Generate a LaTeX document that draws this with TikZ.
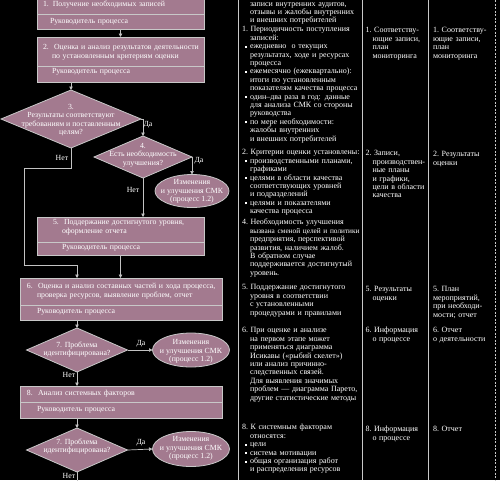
\documentclass[tikz,border=0pt]{standalone}
\usepackage{fontspec}
\setmainfont{Liberation Serif}
\usetikzlibrary{shapes.geometric,arrows.meta,calc}
\definecolor{mauve}{RGB}{163,122,143}
\definecolor{edgegray}{RGB}{200,200,200}
\definecolor{conngray}{RGB}{195,195,195}
\newcommand\ii{\hspace*{8pt}}
\newcommand\iii{\hspace*{7pt}}
\newcommand\bb{\hspace*{3pt}\makebox[5pt][l]{\rule[1pt]{2pt}{2pt}}}
\begin{document}
\begin{tikzpicture}[x=1pt,y=-1pt,
  every node/.style={font=\fontsize{7.8}{8.4}\selectfont, text=white, inner sep=0pt, outer sep=0pt},
  procbox/.style={draw=edgegray, line width=0.8pt, fill=mauve, rectangle, anchor=north west},
  dia/.style={draw=edgegray, line width=0.8pt, fill=mauve, diamond},
  ell/.style={draw=edgegray, line width=0.8pt, fill=mauve, ellipse},
  divline/.style={draw=edgegray, line width=0.8pt},
  arr/.style={draw=conngray, line width=0.7pt, -{Triangle[width=3.5pt,length=3.5pt]}},
  plainline/.style={draw=conngray, line width=0.7pt},
  btxt/.style={anchor=north west, align=left, text width=200pt},
  ctxt/.style={anchor=north, align=center, font=\fontsize{7.8}{8.5}\selectfont},
  etxt/.style={anchor=north, align=center, font=\fontsize{7.8}{8.4}\selectfont},
  coltxt/.style={anchor=north west, align=left, text width=140pt, font=\fontsize{8}{8.4}\selectfont},
  lab/.style={anchor=center},
  colline/.style={draw=edgegray, line width=1pt},
]
\useasboundingbox (0,0) rectangle (500,480);
\fill[black] (0,0) rectangle (500,480);

% column lines
\draw[colline] (238,0) -- (238,480);
\draw[colline] (362,0) -- (362,480);
\draw[colline] (428,0) -- (428,480);
\draw[colline, dashed, dash pattern=on 2pt off 1.5pt] (495,0) -- (495,480);

% process boxes
\node[procbox, minimum width=167pt, minimum height=33pt] (b1) at (37,-4) {};
\draw[divline] (b1.west |- 0,14) -- (b1.east |- 0,14);
\node[procbox, minimum width=167pt, minimum height=45pt] (b2) at (37,37) {};
\draw[divline] (b2.west |- 0,66) -- (b2.east |- 0,66);
\node[procbox, minimum width=167pt, minimum height=38pt] (b5) at (37,217) {};
\draw[divline] (b5.west |- 0,242) -- (b5.east |- 0,242);
\node[procbox, minimum width=202pt, minimum height=42pt] (b6) at (20,278) {};
\draw[divline] (b6.west |- 0,305) -- (b6.east |- 0,305);
\node[procbox, minimum width=202pt, minimum height=32pt] (b8) at (20,386) {};
\draw[divline] (b8.west |- 0,402) -- (b8.east |- 0,402);

% decisions and ellipses
\node[dia, minimum width=140pt, minimum height=58pt] (d3) at (71,119) {};
\node[dia, minimum width=98pt, minimum height=42pt] (d4) at (143,157) {};
\node[dia, minimum width=101pt, minimum height=44pt] (d7) at (77,350) {};
\node[dia, minimum width=101pt, minimum height=44pt] (d9) at (77,450) {};
\node[ell, minimum width=74pt, minimum height=33pt] (e1) at (192,191) {};
\node[ell, minimum width=77pt, minimum height=34pt] (e2) at (191,350) {};
\node[ell, minimum width=77pt, minimum height=35pt] (e3) at (191,449) {};

% box texts
\node[btxt] (t1a) at (43,1.1) {\strut 1. Получение необходимых записей};
\node[btxt] (t1b) at (50,18.1) {\strut Руководитель процесса};
\node[btxt] (t2a) at (43,44.1) {\strut 2.\ \ Оценка и анализ результатов деятельности\\\hspace*{9pt}по установленным критериям оценки};
\node[btxt] (t2b) at (52,68.1) {\strut Руководитель процесса};
\node[btxt] (t5a) at (53,219.1) {\strut 5.\ \ Поддержание достигнутого уровня,\\\hspace*{9pt}оформление отчета};
\node[btxt] (t5b) at (62,244.1) {\strut Руководитель процесса};
\node[btxt] (t6a) at (27,283.1) {\strut 6.\ \ Оценка и анализ составных частей и хода процесса,\\\hspace*{10pt}проверка ресурсов, выявление проблем, отчет};
\node[btxt] (t6b) at (37,308.1) {\strut Руководитель процесса};
\node[btxt] (t8a) at (27,390.1) {\strut 8.\ \ Анализ системных факторов};
\node[btxt] (t8b) at (37,406.1) {\strut Руководитель процесса};

% shape texts
\node[ctxt] (td3) at (71,103.1) {\strut 3.\\Результаты соответствуют\\требованиям и поставленным\\целям?};
\node[ctxt] (td4) at (143,142.1) {\strut 4.\\Есть необходимость\\улучшения?};
\node[etxt] (te1) at (192,179.1) {\strut Изменения\\и улучшения СМК\\(процесс 1.2)};
\node[ctxt] (td7) at (77,341.1) {\strut 7. Проблема\\идентифицирована?};
\node[etxt] (te2) at (191,339.1) {\strut Изменения\\и улучшения СМК\\(процесс 1.2)};
\node[ctxt] (td9) at (77,438.1) {\strut 7. Проблема\\идентифицирована?};
\node[etxt] (te3) at (191,436.1) {\strut Изменения\\и улучшения СМК\\(процесс 1.2)};

% connectors
\coordinate (n1) at (24,168);
\coordinate (n2) at (24,265);
\coordinate (n3) at (77,482);
\draw[arr] (b1.south) -- (b2.north);
\draw[arr] (b2.south -| d3.north) -- (d3.north);
\draw[arr] (d3.east) -| (d4.north);
\draw[arr] (d4.east) -| (e1.north);
\draw[arr] (d4.south) -- (d4.south |- b5.north);
\draw[arr] (d3.south) |- (n1) -- (n2) -| (d7.north |- b6.north);
\draw[arr] (b5.south) -- (b5.south |- b6.north);
\draw[arr] (d7.north |- b6.south) -- (d7.north);
\draw[arr] (d7.east) -- (e2.west);
\draw[arr] (d7.south) -- (d7.south |- b8.north);
\draw[arr] (d9.north |- b8.south) -- (d9.north);
\draw[arr] (d9.east) -- (e3.west);
\draw[plainline] (d9.south) -- (n3);

% labels
\node[lab] (l1) at (148,125) {Да};
\node[lab] (l2) at (62,158) {Нет};
\node[lab] (l3) at (199,161) {Да};
\node[lab] (l4) at (133,190) {Нет};
\node[lab] (l5) at (141,344) {Да};
\node[lab] (l6) at (69,375) {Нет};
\node[lab] (l7) at (141,443) {Да};
\node[lab] (l8) at (69,476) {Нет};

% column 1
\node[coltxt] (c1a) at (242,0.3) {\strut\ii записи внутренних аудитов,\\\ii отзывы и жалобы внутренних\\\ii и внешних потребителей};
\node[coltxt] (c1b) at (242,26.1) {\strut 1.~Периодичность поступления\\\ii записей:\\\bb ежедневно\ \ о текущих\\\ii результатах, ходе и ресурсах\\\ii процесса\\\bb ежемесячно (ежеквартально):\\\ii итоги по установленным\\\ii показателям качества процесса\\\bb один–два раза в год: данные\\\ii для анализа СМК со стороны\\\ii руководства\\\bb по мере необходимости:\\\ii жалобы внутренних\\\ii и внешних потребителей};
\node[coltxt] (c1c) at (242,149.1) {\strut 2.~Критерии оценки установлены:\\\bb производственными планами,\\\ii графиками\\\bb целями в области качества\\\ii соответствующих уровней\\\ii и подразделений\\\bb целями и показателями\\\ii качества процесса};
\node[coltxt] (c1d) at (242,219.1) {\strut 4.~Необходимость улучшения\\\ii {\fontsize{7.3}{8.4}\selectfont вызвана сменой целей и политики}\\\ii предприятия, перспективой\\\ii развития, наличием жалоб.\\\ii В обратном случае\\\ii поддерживается достигнутый\\\ii уровень.};
\node[coltxt] (c1e) at (242,284.1) {\strut 5.~Поддержание достигнутого\\\ii уровня в соответствии\\\ii с установленными\\\ii процедурами и правилами};
\node[coltxt] (c1f) at (242,327.1) {\strut 6.~При оценке и анализе\\\ii на первом этапе может\\\ii применяться диаграмма\\\ii Исикавы («рыбий скелет»)\\\ii или анализ причинно-\\\ii следственных связей.\\\ii Для выявления значимых\\\ii проблем — диаграмма Парето,\\\ii другие статистические методы};
\node[coltxt] (c1g) at (242,424.1) {\strut 8.~К системным факторам\\\ii относятся:\\\bb цели\\\bb система мотивации\\\bb общая организация работ\\\ii и распределения ресурсов};

% column 2
\node[coltxt] (c2a) at (365.5,27.1) {\strut 1.~Соответству-\\\iii ющие записи,\\\iii план\\\iii мониторинга};
\node[coltxt] (c2b) at (365.5,150.1) {\strut 2.~Записи,\\\iii производствен-\\\iii ные планы\\\iii и графики,\\\iii цели в области\\\iii качества};
\node[coltxt] (c2c) at (365.5,286.1) {\strut 5.~Результаты\\\iii оценки};
\node[coltxt] (c2d) at (365.5,327.1) {\strut 6.~Информация\\\iii о процессе};
\node[coltxt] (c2e) at (365.5,426.1) {\strut 8.~Информация\\\iii о процессе};

% column 3
\node[coltxt] (c3a) at (433,27.1) {\strut 1.~Соответству-\\ющие записи,\\план\\мониторинга};
\node[coltxt] (c3b) at (433,151.1) {\strut 2.~Результаты\\оценки};
\node[coltxt] (c3c) at (433,286.1) {\strut 5.~План\\мероприятий,\\при необходи-\\мости; отчет};
\node[coltxt] (c3d) at (433,327.1) {\strut 6.~Отчет\\о деятельности};
\node[coltxt] (c3e) at (433,426.1) {\strut 8.~Отчет};
\end{tikzpicture}
\end{document}
